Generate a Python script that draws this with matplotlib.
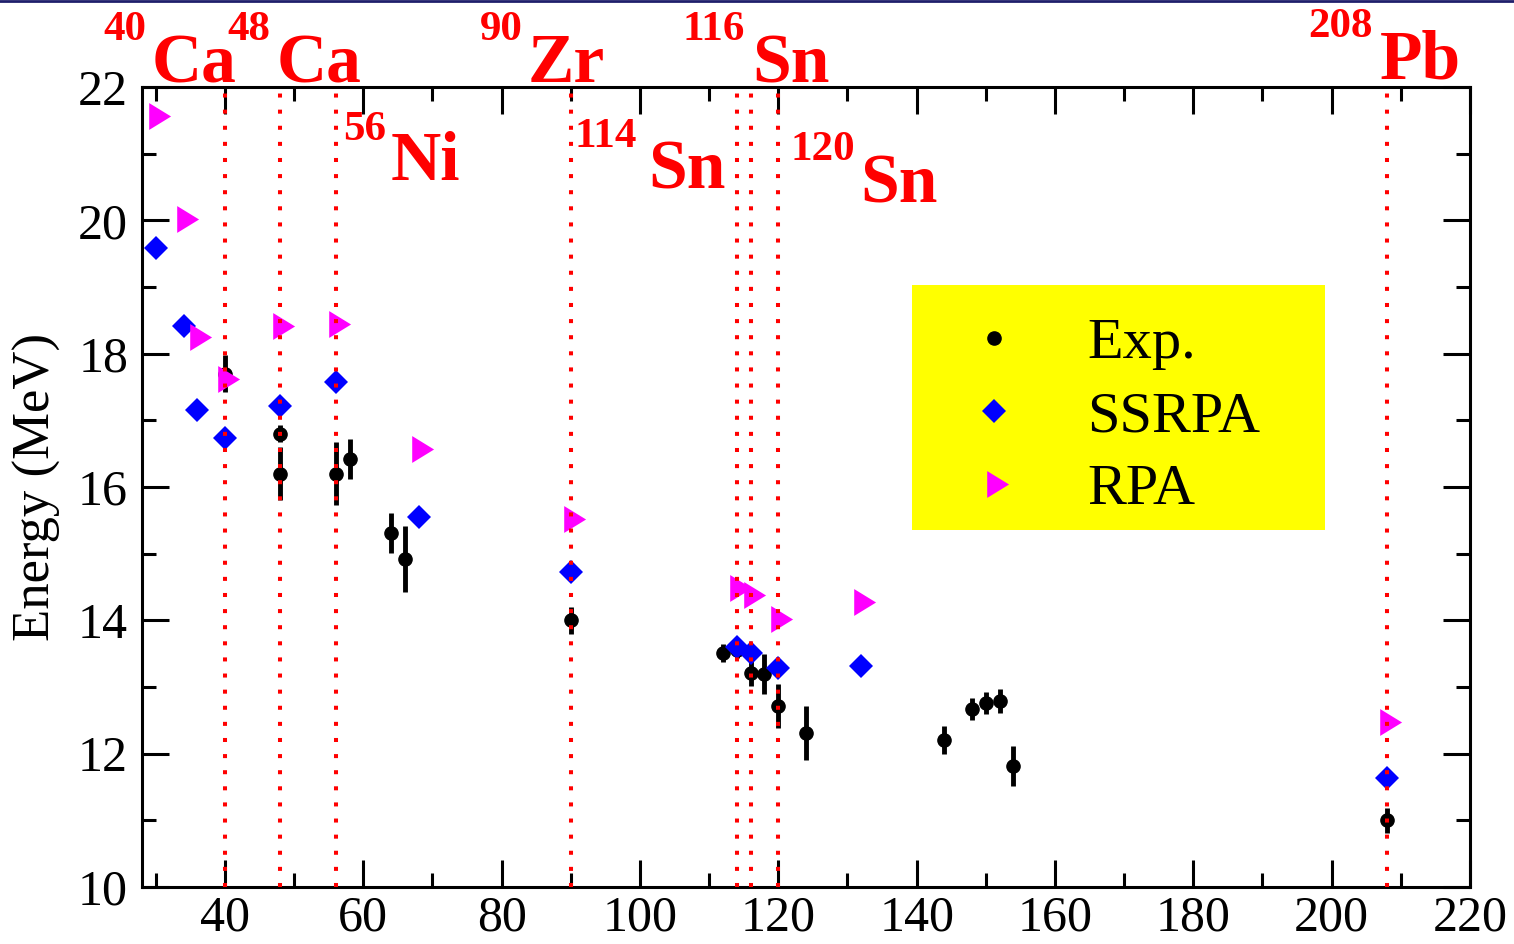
import matplotlib
matplotlib.use('Agg')
import matplotlib.pyplot as plt
from matplotlib.patches import Rectangle
from matplotlib.lines import Line2D
from matplotlib.ticker import MultipleLocator

plt.rcParams['font.family'] = ['Liberation Serif', 'DejaVu Serif']

# 実験値 (Exp.)
exp_A = [40, 48, 48, 56, 58, 64, 66, 90, 112, 114, 116, 118, 120, 124, 144, 148, 150, 152, 154, 208]
exp_E = [17.7, 16.8, 16.2, 16.2, 16.42, 15.31, 14.92, 14.0, 13.51, 13.55, 13.21, 13.2, 12.72, 12.31,
         12.21, 12.67, 12.76, 12.79, 11.81, 11.0]
exp_err = [0.28, 0.13, 0.4, 0.47, 0.3, 0.3, 0.5, 0.2, 0.13, 0.12, 0.2, 0.3, 0.33, 0.4,
           0.21, 0.17, 0.17, 0.18, 0.3, 0.19]

# SSRPA
ssrpa_A = [30, 34, 36, 40, 48, 56, 68, 90, 114, 116, 120, 132, 208]
ssrpa_E = [19.59, 18.41, 17.15, 16.73, 17.21, 17.58, 15.55, 14.72, 13.6, 13.51, 13.28, 13.31, 11.63]

# RPA
rpa_A = [30, 34, 36, 40, 48, 56, 68, 90, 114, 116, 120, 132, 208]
rpa_E = [21.56, 20.02, 18.25, 17.62, 18.41, 18.44, 16.57, 15.52, 14.49, 14.38, 14.02, 14.28, 12.48]

# 縦線を引く核
nuclei_A = [40, 48, 56, 90, 114, 116, 120, 208]
nuclei_mass = ['40', '48', '56', '90', '114', '116', '120', '208']
nuclei_sym = ['Ca', 'Ca', 'Ni', 'Zr', 'Sn', 'Sn', 'Sn', 'Pb']
# ラベル位置 (質量数の左端x, 質量数ベースラインy, 元素記号の左端x, 元素記号ベースラインy)
label_pos = [(22.4, 22.70, 29.45, 22.07),
             (40.4, 22.70, 47.4, 22.07),
             (57.1, 21.20, 63.9, 20.60),
             (76.9, 22.70, 83.7, 22.07),
             (90.6, 21.10, 101.2, 20.48),
             (106.1, 22.70, 116.2, 22.07),
             (121.7, 20.90, 131.8, 20.27),
             (196.6, 22.75, 207.0, 22.13)]

fig = plt.figure(figsize=(15.14, 9.44), dpi=100)
ax = fig.add_axes([0.0938, 0.0604, 0.8771, 0.8474])

tri = [(-1, -1.84), (-1, 1.84), (2, 0), (-1, -1.84)]  # 重心が中心の三角形

ax.errorbar(exp_A, exp_E, yerr=exp_err, fmt='o', color='black', ms=9.5,
            elinewidth=3.5, capsize=0, zorder=3)
ax.plot(ssrpa_A, ssrpa_E, 'D', color='#0000ff', ms=12, mew=0, zorder=4)
ax.plot(rpa_A, rpa_E, linestyle='none', marker=tri, color='#ff00ff', ms=21, mew=0, zorder=5)

for a in nuclei_A:
    ax.axvline(a, color='#ff0000', lw=2.9, linestyle=(0, (1, 3)), zorder=6)

for (mx, my, sx, sy), m, s in zip(label_pos, nuclei_mass, nuclei_sym):
    ax.text(mx, my, m, color='#ff0000', fontsize=31, fontweight='bold', family='Liberation Serif',
            va='baseline', ha='left', clip_on=False)
    ax.text(sx, sy, s, color='#ff0000', fontsize=50, fontweight='bold', family='Liberation Serif',
            va='baseline', ha='left', clip_on=False)

ax.set_xlim(28, 220)
ax.set_ylim(10, 22)
ax.xaxis.set_major_locator(MultipleLocator(20))
ax.xaxis.set_minor_locator(MultipleLocator(10))
ax.yaxis.set_major_locator(MultipleLocator(2))
ax.yaxis.set_minor_locator(MultipleLocator(1))
ax.tick_params(which='both', direction='in', top=True, right=True, width=2.2, labelsize=36)
ax.tick_params(which='major', length=19.5)
ax.tick_params(which='minor', length=10)
ax.tick_params(axis='x', pad=6)
ax.tick_params(axis='y', pad=10)
for sp in ax.spines.values():
    sp.set_linewidth(2.2)

ax.set_ylabel('Energy (MeV)', fontsize=38, labelpad=12)

# 凡例 (黄色い箱)
ax.add_patch(Rectangle((0.58, 0.446), 0.311, 0.3065, transform=ax.transAxes,
                       facecolor='#ffff00', edgecolor='none', zorder=1))
handles = [Line2D([], [], linestyle='none', marker='o', color='black', ms=9.5),
           Line2D([], [], linestyle='none', marker='D', color='#0000ff', ms=12, mew=0),
           Line2D([], [], linestyle='none', marker=tri, color='#ff00ff', ms=21, mew=0)]
ax.legend(handles, ['Exp.', 'SSRPA', 'RPA'], loc='upper left', bbox_to_anchor=(0.58, 0.7525),
          borderaxespad=0, frameon=False, fontsize=42, borderpad=0.55, handlelength=1.7,
          handletextpad=0.75, labelspacing=0.35, numpoints=1)

# スライド枠の線
fig.add_artist(Line2D([0, 1], [0.999, 0.999], color='#1f1f6b', lw=2, transform=fig.transFigure))

plt.savefig('out.png', dpi=100)
